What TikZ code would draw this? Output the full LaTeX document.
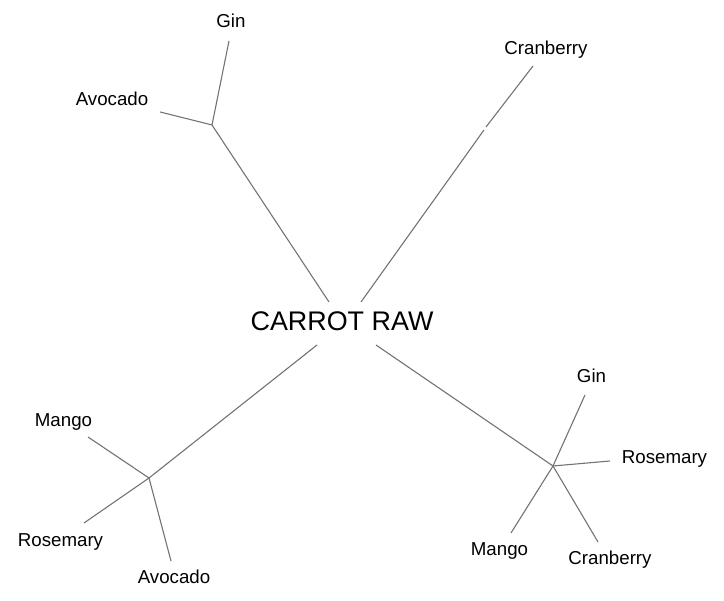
\documentclass[tikz,border=0pt]{standalone}
\usepackage{fontspec}
\setmainfont{Liberation Sans}
\begin{document}
\begin{tikzpicture}[x=1pt,y=-1pt,
  lbl/.style={anchor=base,inner sep=0pt,font=\fontsize{18.7}{20}\selectfont},
  ctr/.style={anchor=base,inner sep=0pt,font=\fontsize{26.9}{30}\selectfont},
  edge/.style={draw=black!55,line width=1.1pt}]
\useasboundingbox (0,0) rectangle (724,601);
% labels
\node[ctr] (root) at (342,331) {CARROT RAW};
\node[lbl] (tgin) at (231,28) {Gin};
\node[lbl] (tavo) at (112,105.5) {Avocado};
\node[lbl] (tcran) at (546,55) {Cranberry};
\node[lbl] (lmango) at (63.5,426.7) {Mango};
\node[lbl] (lrose) at (60.5,546.7) {Rosemary};
\node[lbl] (lavo) at (174,583.3) {Avocado};
\node[lbl] (rgin) at (591.5,382.7) {Gin};
\node[lbl] (rrose) at (664.5,463.3) {Rosemary};
\node[lbl] (rmango) at (499.5,556) {Mango};
\node[lbl] (rcran) at (610,565) {Cranberry};
% junction and end coordinates
\coordinate (c1) at (329,302);
\coordinate (c2) at (361,302);
\coordinate (c3) at (317,345);
\coordinate (c4) at (376,345);
\coordinate (b1) at (212,125);
\coordinate (b2a) at (484,130);
\coordinate (b2b) at (486,127);
\coordinate (b3) at (149,478);
\coordinate (b4) at (553,466);
\coordinate (e1) at (229,41);
\coordinate (e2) at (160,112);
\coordinate (e3) at (533,66);
\coordinate (e4) at (88,437);
\coordinate (e5) at (84,523);
\coordinate (e6) at (171,561);
\coordinate (e7) at (585,395);
\coordinate (e8) at (610,461);
\coordinate (e9) at (511,533);
\coordinate (e10) at (598,542);
% connectors
\draw[edge] (c1) -- (b1);
\draw[edge] (b1) -- (e1);
\draw[edge] (b1) -- (e2);
\draw[edge] (c2) -- (b2a);
\draw[edge] (b2b) -- (e3);
\draw[edge] (c3) -- (b3);
\draw[edge] (b3) -- (e4);
\draw[edge] (b3) -- (e5);
\draw[edge] (b3) -- (e6);
\draw[edge] (c4) -- (b4);
\draw[edge] (b4) -- (e7);
\draw[edge] (b4) -- (e8);
\draw[edge] (b4) -- (e9);
\draw[edge] (b4) -- (e10);
\end{tikzpicture}
\end{document}
